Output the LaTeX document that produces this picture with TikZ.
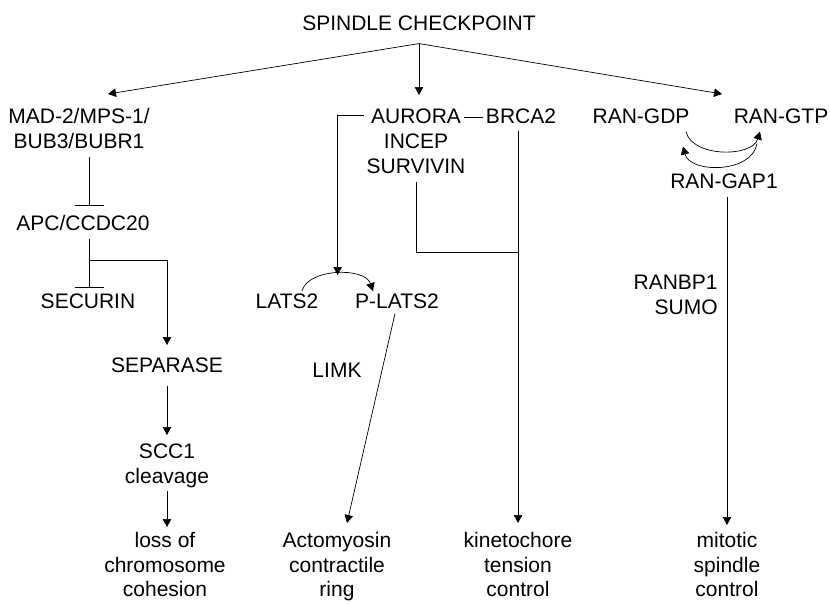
\documentclass[tikz,border=0pt]{standalone}
\usepackage{fontspec}
\setmainfont{Liberation Sans}
\usetikzlibrary{positioning,calc,arrows.meta}

\begin{document}
\begin{tikzpicture}[x=1pt,y=1pt,line width=0.7pt,>={Triangle[length=8pt,width=8.5pt]}]
    \tikzstyle{every node}=[inner sep=0,anchor=north,align=center,font=\fontsize{21}{25}\selectfont]
    \tikzstyle{outcome}=[font=\fontsize{21}{24.5}\selectfont]
    \tikzstyle{act}=[->]
    \tikzstyle{inh}=[-{Bar[width=29pt]}]
    \useasboundingbox (0,0) rectangle (830,-603);
    {
        \node (check) at (419,-15) {SPINDLE CHECKPOINT};
        \coordinate[below=13pt of check] (apex);

        % left branch
        \node (mad) at (79,-108) {MAD-2/MPS-1/\\BUB3/BUBR1};
        \node (apc) at (83,-215) {APC/CCDC20};
        \node (securin) at (88,-293) {SECURIN};
        \node (separase) at (167,-357) {SEPARASE};
        \node (scc) at (167,-443) {SCC1\\cleavage};
        \node[outcome] (loss) at (165,-532) {loss of\\chromosome\\cohesion};

        % middle branch
        \node (aurora) at (416,-108) {AURORA};
        \node (incep) [below=10pt of aurora] {INCEP\\SURVIVIN};
        \node (brca) at (521,-108) {BRCA2};
        \node (lats) at (287,-293) {LATS2};
        \node (plats) at (397,-293) {P-LATS2};
        \node (limk) at (337,-363) {LIMK};
        \node[outcome] (acto) at (337,-532) {Actomyosin\\contractile\\ring};
        \node[outcome] (kin) at (518,-532) {kinetochore\\tension\\control};

        % right branch
        \node (gdp) at (641,-108) {RAN-GDP};
        \node (gtp) at (781,-108) {RAN-GTP};
        \node (gap) at (724,-173) {RAN-GAP1};
        \node[anchor=north east,align=right] (ranbp) at (718,-275) {RANBP1\\SUMO};
        \node[outcome] (mit) at (727,-532) {mitotic\\spindle\\control};

        \coordinate (split) at ($(apc.south)+(6,-29)$);
        \coordinate (join) at (kin.north |- 0,-252);
        \coordinate (lk) at ($(lats.north)!0.46!(plats.north)+(0,18)$);

        \draw[act] (apex) -- ([shift={(29pt,14pt)}]mad.north);
        \draw[act,shorten >=13pt] (apex) -- (apex |- aurora.north);
        \draw[act] (apex) -- ([shift={(-59pt,14pt)}]gtp.north);

        \draw[inh] ($(mad.south)+(10,-8)$) -- ($(apc.north)+(6,9)$);
        \draw[inh] ($(apc.south)+(6,-8)$) -- ($(securin.north)+(1,5)$);
        \draw[act,shorten >=12pt] (split) -| (separase.north);
        \draw[act,shorten <=13pt,shorten >=8pt] (separase.south) -- (scc.north);
        \draw[act,shorten <=3pt,shorten >=5pt] (scc.south) -- (scc.south |- loss.north);

        \draw[shorten <=3pt,shorten >=3pt] ([yshift=-2pt]aurora.east) -- ([yshift=-2pt]brca.west);
        \draw[act,shorten <=7pt,shorten >=9pt] (brca.south -| kin.north) -- (kin.north);
        \draw[shorten <=8pt] (incep.south) |- (join);
        \draw[act] ([xshift=-7pt]aurora.west) -| (lk);
        \draw[act] ([xshift=15pt,yshift=2pt]lats.north) .. controls +(6,23) and +(-8,24) .. ([xshift=-24pt,yshift=2pt]plats.north);
        \draw[act] ([xshift=-2pt,yshift=-5pt]plats.south) -- ([xshift=10pt,yshift=9pt]acto.north);

        \draw[act] ([shift={(45pt,-8pt)}]gdp.south) .. controls +(6,-26) and +(-8,-26) .. ([shift={(-21pt,-8pt)}]gtp.south);
        \draw[act] ([shift={(-24pt,-20pt)}]gtp.south) .. controls +(-5,-30) and +(7,-27) .. ([shift={(42pt,-23pt)}]gdp.south);
        \draw[act,shorten <=8pt,shorten >=7pt] (gap.south -| mit.north) -- (mit.north);
    }
\end{tikzpicture}
\end{document}
